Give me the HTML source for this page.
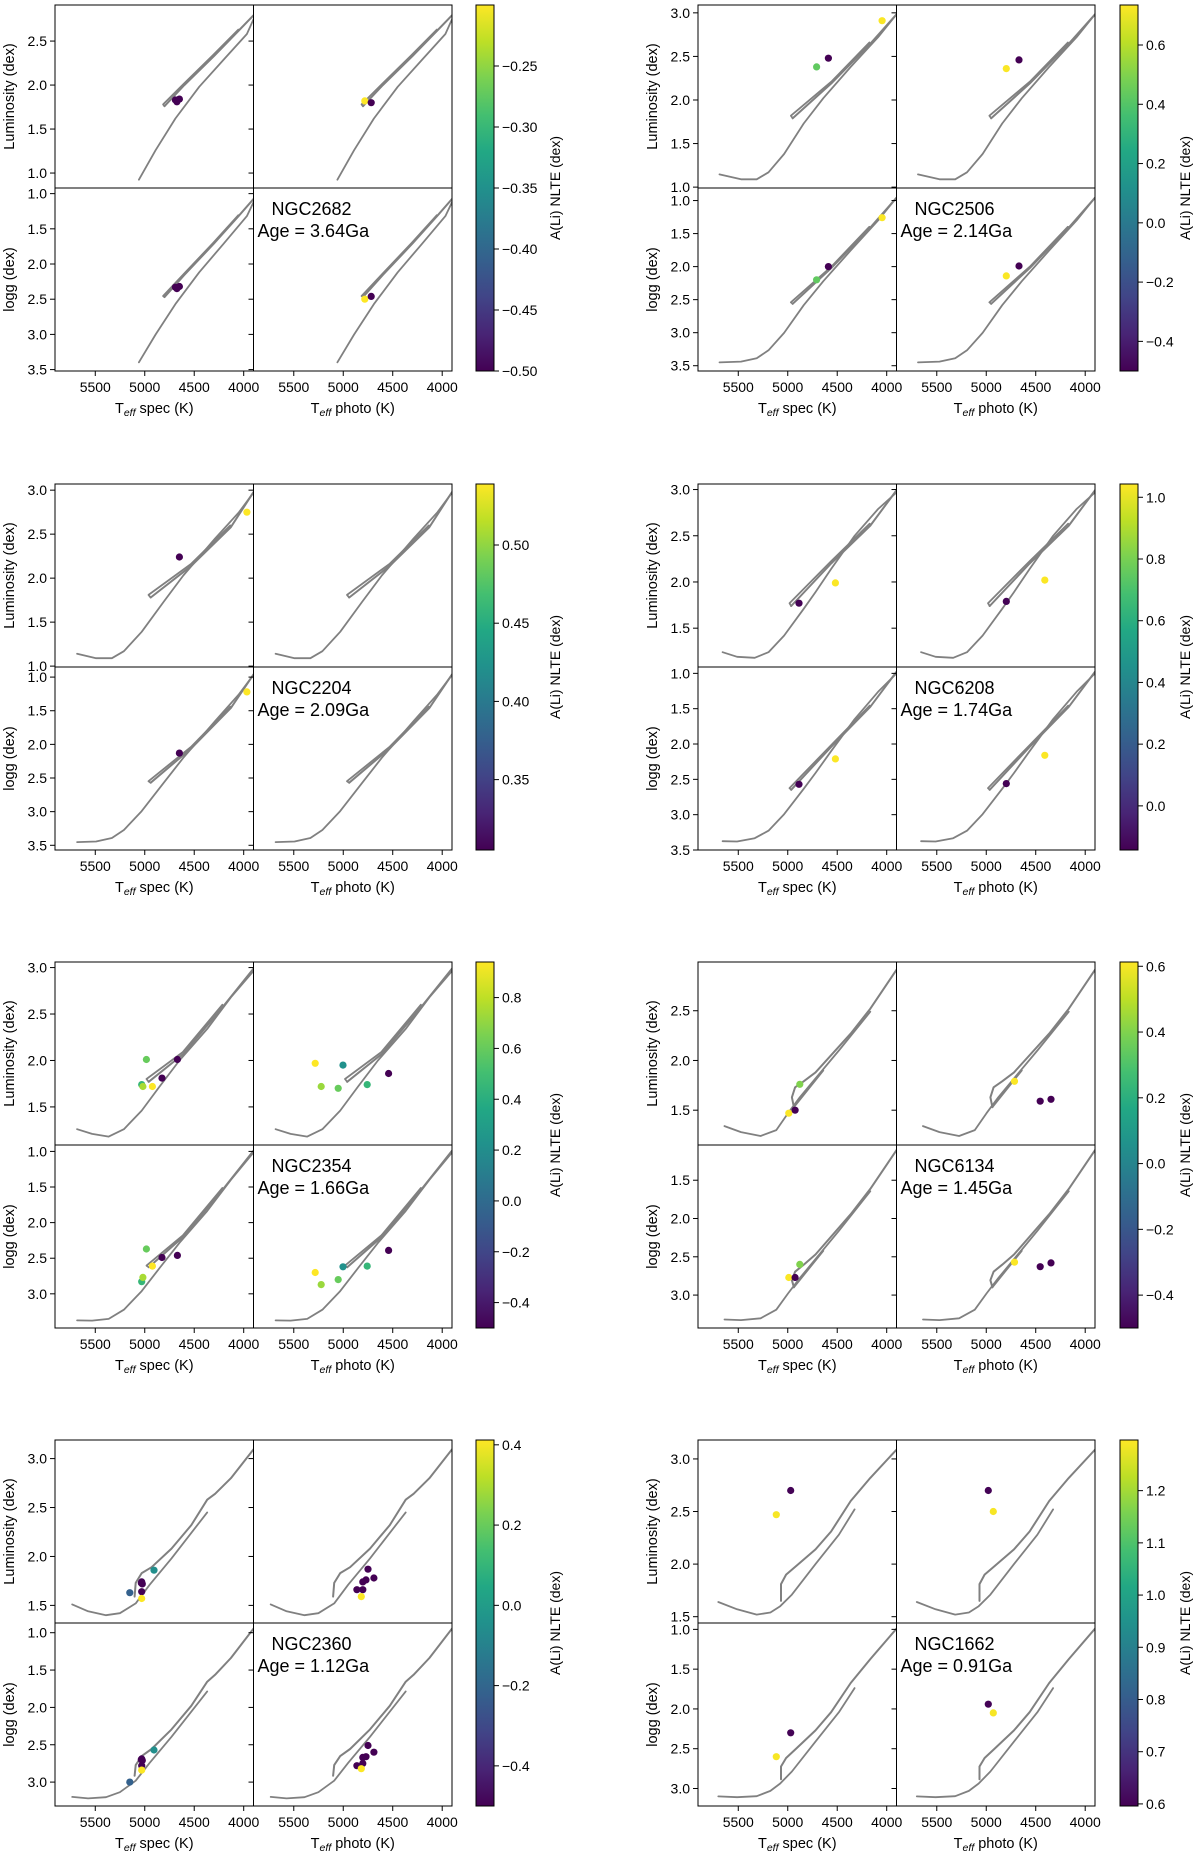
<!DOCTYPE html>
<html><head><meta charset="utf-8"><title>Li-rich giants isochrone panels</title>
<style>
html,body{margin:0;padding:0;background:#fff;}
svg{display:block;font-family:"Liberation Sans","DejaVu Sans",sans-serif;}
</style></head>
<body>
<svg id="fig" xmlns="http://www.w3.org/2000/svg" width="1200" height="1860" viewBox="0 0 1200 1860"></svg>
<script>
// ---------- data ----------
const clusterNames = ["NGC2682","NGC2506","NGC2204","NGC6208","NGC2354","NGC6134","NGC2360","NGC1662"];
const clusterAges = ["3.64","2.14","2.09","1.74","1.66","1.45","1.12","0.91"];
const lumLim = [[0.83,2.91],[0.99,3.09],[0.99,3.07],[1.08,3.06],[1.09,3.06],[1.15,2.99],[1.32,3.19],[1.44,3.18]];
const loggLim = [[0.92,3.52],[0.81,3.58],[0.85,3.57],[0.91,3.5],[0.91,3.48],[1.04,3.43],[0.87,3.32],[0.92,3.22]];
const lumTicks = [[1.0,1.5,2.0,2.5],[1.0,1.5,2.0,2.5,3.0],[1.0,1.5,2.0,2.5,3.0],[1.5,2.0,2.5,3.0],[1.5,2.0,2.5,3.0],[1.5,2.0,2.5],[1.5,2.0,2.5,3.0],[1.5,2.0,2.5,3.0]];
const loggTicks = [[1.0,1.5,2.0,2.5,3.0,3.5],[1.0,1.5,2.0,2.5,3.0,3.5],[1.0,1.5,2.0,2.5,3.0,3.5],[1.0,1.5,2.0,2.5,3.0,3.5],[1.0,1.5,2.0,2.5,3.0],[1.5,2.0,2.5,3.0],[1.0,1.5,2.0,2.5,3.0],[1.0,1.5,2.0,2.5,3.0]];
const tempLim = [5907,3901];
const tempTicks = [5500,5000,4500,4000];
const cbMin = [-0.50,-0.50,0.305,-0.143,-0.50,-0.50,-0.50,0.596];
const cbMax = [-0.20,0.735,0.539,1.043,0.94,0.613,0.412,1.297];
const cbTicks = [[-0.25,-0.30,-0.35,-0.40,-0.45,-0.50],[0.6,0.4,0.2,0.0,-0.2,-0.4],[0.50,0.45,0.40,0.35],[1.0,0.8,0.6,0.4,0.2,0.0],[0.8,0.6,0.4,0.2,0.0,-0.2,-0.4],[0.6,0.4,0.2,0.0,-0.2,-0.4],[0.4,0.2,0.0,-0.2,-0.4],[1.2,1.1,1.0,0.9,0.8,0.7,0.6]];
const cbDecimals = [2,1,2,1,1,1,1,1];
// isochrones (Teff, log L); log g derived with per-cluster zero point
const isoG0 = [4.55,4.62,4.62,4.65,4.66,4.70,4.72,4.76];
const isoMainT = [
 [5059,4890,4690,4450,4209,3968,3888],
 [5690,5472,5314,5195,5037,4839,4641,4364,4087,3889],
 [5684,5492,5332,5211,5031,4810,4610,4289,4048,3896],
 [5658,5512,5334,5195,5037,4839,4720,4562,4324,4087,3889],
 [5684,5532,5364,5211,5031,4850,4650,4369,4129,3896],
 [5639,5472,5274,5116,4997,4878,4720,4483,4166],
 [5733,5572,5392,5251,5091,4951,4730,4369],
 [5702,5512,5314,5175,5076,4958,4720,4483,4324]];
const isoMainL = [
 [0.924,1.26,1.62,1.98,2.28,2.58,2.78],
 [1.146,1.09,1.09,1.17,1.38,1.73,2.02,2.38,2.72,3.0],
 [1.14,1.09,1.09,1.17,1.39,1.73,2.03,2.45,2.75,2.98],
 [1.24,1.19,1.18,1.24,1.42,1.71,1.89,2.14,2.50,2.79,2.98],
 [1.26,1.21,1.18,1.26,1.46,1.72,2.0,2.34,2.68,2.97],
 [1.34,1.28,1.24,1.30,1.47,1.63,1.82,2.10,2.49],
 [1.51,1.44,1.40,1.42,1.52,1.71,1.98,2.45],
 [1.64,1.57,1.52,1.54,1.60,1.71,2.0,2.28,2.52]];
const isoBranchT = [
 [4800,4600,4300,4050,3895],
 [4950,4560,4170,3895],
 [4940,4530,4129,3900],
 [4965,4562,4166,3895],
 [4960,4610,4209,3900],
 [4938,4958,4926,4839,4720,4364,4166,3889],
 [5103,5091,5031,4931,4730,4530,4369,4289,4129,3896],
 [5068,5068,5017,4918,4720,4562,4364,4166,3889]];
const isoBranchL = [
 [1.76,2.00,2.33,2.62,2.80],
 [1.79,2.19,2.64,2.99],
 [1.78,2.14,2.58,2.98],
 [1.74,2.20,2.61,3.0],
 [1.77,2.07,2.58,2.99],
 [1.53,1.63,1.73,1.79,1.88,2.27,2.52,2.93],
 [1.59,1.73,1.83,1.89,2.08,2.32,2.58,2.64,2.80,3.10],
 [1.65,1.81,1.90,1.98,2.14,2.31,2.60,2.82,3.10]];
const isoExtraT = [[4800,4815,4610,4310,4055],[4950,4968,4560,4175],[4940,4962,4535,4135],[4965,4982,4566,4172],[4960,4982,4615,4215],[4938,4641],[],[]];
const isoExtraL = [[1.76,1.78,2.01,2.34,2.63],[1.79,1.82,2.21,2.66],[1.78,1.81,2.16,2.60],[1.74,1.77,2.22,2.63],[1.77,1.80,2.09,2.60],[1.53,1.90],[],[]];
// stars: spectroscopic
const specT = [[4690,4650,4675],[4047,4589,4708],[4650,3968],[4886,4518],[4983,5031,5019,4923,4826,4670],[4878,4989,4926],[5151,4907,5031,5025,5035,5031,5031],[4970,5116]];
const specL = [[1.83,1.84,1.81],[2.91,2.48,2.38],[2.24,2.75],[1.77,1.99],[2.01,1.74,1.72,1.72,1.81,2.01],[1.76,1.47,1.50],[1.63,1.86,1.74,1.72,1.73,1.64,1.57],[2.70,2.47]];
const specLogg = [[2.33,2.32,2.35],[1.26,2.00,2.20],[2.13,1.22],[2.57,2.21],[2.37,2.83,2.77,2.61,2.49,2.46],[2.60,2.77,2.77],[3.00,2.57,2.69,2.71,2.70,2.78,2.84],[2.30,2.60]];
const specA = [[-0.5,-0.5,-0.5],[0.73,-0.5,0.43],[0.305,0.539],[-0.14,1.04],[0.6,0.45,0.75,0.94,-0.5,-0.5],[0.4,0.61,-0.5],[-0.22,-0.05,-0.5,-0.5,-0.5,-0.5,0.41],[0.6,1.29]];
// stars: photometric
const photoT = [[4782,4718],[4797,4669],[],[4797,4408],[5283,5003,5223,5051,4758,4542],[4715,4455,4346],[4862,4802,4802,4770,4690,4750,4818],[4979,4929]];
const photoL = [[1.82,1.80],[2.36,2.46],[],[1.79,2.02],[1.97,1.95,1.72,1.70,1.74,1.86],[1.79,1.59,1.61],[1.66,1.66,1.74,1.76,1.78,1.87,1.59],[2.70,2.50]];
const photoLogg = [[2.50,2.46],[2.14,1.99],[],[2.56,2.16],[2.70,2.62,2.87,2.80,2.61,2.39],[2.57,2.63,2.58],[2.78,2.75,2.67,2.66,2.60,2.51,2.82],[1.94,2.05]];
const photoA = [[-0.2,-0.5],[0.73,-0.5],[],[-0.14,1.04],[0.94,0.22,0.72,0.6,0.45,-0.5],[0.61,-0.5,-0.5],[-0.5,-0.5,-0.5,-0.5,-0.5,-0.5,0.41],[0.6,1.29]];

// ---------- layout ----------
const NS = "http://www.w3.org/2000/svg";
const svg = document.getElementById('fig');
const groupX = [55, 698];
const subW = 198.5;
const rowTop = [5, 484, 962, 1440];
const subH = 183;
const cbX = [476, 1120];
const cbW = 18;
const cbLabelOff = [66, 52];
const viridis = ["#440154","#482475","#414487","#355f8d","#2a788e","#21918c","#22a884","#44bf70","#7ad151","#bddf26","#fde725"];

function hex(c){return [parseInt(c.substr(1,2),16),parseInt(c.substr(3,2),16),parseInt(c.substr(5,2),16)];}
function cmap(t){
  t = Math.max(0, Math.min(1, t));
  const p = t*10, i = Math.min(9, Math.floor(p)), f = p - i;
  const a = hex(viridis[i]), b = hex(viridis[i+1]);
  return "rgb(" + a.map((v,k)=>Math.round(v + (b[k]-v)*f)).join(",") + ")";
}
function mk(tag, attrs, parent){
  const e = document.createElementNS(NS, tag);
  for (const k in attrs) e.setAttribute(k, attrs[k]);
  (parent || svg).appendChild(e);
  return e;
}
function fmt(v, d){ const s = Math.abs(v).toFixed(d); return (v < -1e-9 ? "\u2212" : "") + s; }
const defs = mk('defs', {});
const lg = mk('linearGradient', {id:'vir', x1:'0', y1:'1', x2:'0', y2:'0'}, defs);
viridis.forEach((c,i)=>mk('stop',{offset:(i*10)+'%','stop-color':c},lg));

for (let ci = 0; ci < 8; ci++) {
  const gi = ci % 2, ri = Math.floor(ci / 2);
  const x0 = groupX[gi], y0 = rowTop[ri];
  const g = mk('g', {});
  
  
  const norm = v => (v - cbMin[ci]) / (cbMax[ci] - cbMin[ci]);
  for (let row = 0; row < 2; row++) {
    for (let col = 0; col < 2; col++) {
      const ax = x0 + col*subW, ay = y0 + row*subH;
      const lim = row === 0 ? lumLim[ci] : loggLim[ci];
      const sx = t => ax + (t - tempLim[0])/(tempLim[1]-tempLim[0])*subW;
      const sy = row === 0 ? (v => ay + (lim[1]-v)/(lim[1]-lim[0])*subH) : (v => ay + (v-lim[0])/(lim[1]-lim[0])*subH);
      const yval = (T, L) => row === 0 ? L : isoG0[ci] - L + 4*Math.log10(T/5772);
      const sub = mk('g', {}, g);
      
      
      const cid = 'clip' + ci + row + col;
      const cp = mk('clipPath', {id:cid}, defs);
      mk('rect', {x:ax, y:ay, width:subW, height:subH}, cp);
      const plot = mk('g', {'clip-path':'url(#'+cid+')'}, sub);
      // isochrones
      [[isoMainT[ci], isoMainL[ci], 1.8], [isoBranchT[ci], isoBranchL[ci], 2.0], [isoExtraT[ci], isoExtraL[ci], 1.8]].forEach((s, k) => {
        if (!s[0].length) return;
        const pts = s[0].map((T, i) => sx(T).toFixed(1) + ',' + sy(yval(T, s[1][i])).toFixed(1)).join(' ');
        const pl = mk('polyline', {points:pts, fill:'none', stroke:'#808080', 'stroke-width':s[2], 'stroke-linejoin':'round', 'stroke-linecap':'round'}, plot);
        
        
      });
      // stars
      const TT = col === 0 ? specT[ci] : photoT[ci];
      const VV = row === 0 ? (col === 0 ? specL[ci] : photoL[ci]) : (col === 0 ? specLogg[ci] : photoLogg[ci]);
      const AA = col === 0 ? specA[ci] : photoA[ci];
      TT.forEach((T, i) => {
        const c = mk('circle', {cx:sx(T).toFixed(1), cy:sy(VV[i]).toFixed(1), r:3.6, fill:cmap(norm(AA[i]))}, plot);
        
        
      });
      // frame
      mk('rect', {x:ax, y:ay, width:subW, height:subH, fill:'none', stroke:'#000', 'stroke-width':1}, sub);
      // y ticks
      const yt = row === 0 ? lumTicks[ci] : loggTicks[ci];
      yt.forEach(v => {
        const yy = sy(v);
        mk('line', {x1:ax-5, x2:ax, y1:yy, y2:yy, stroke:'#000', 'stroke-width':1}, sub);
        if (col === 0) {
          const t = mk('text', {x:ax-8, y:yy+5, 'text-anchor':'end', 'font-size':14, fill:'#000'}, sub);
          t.textContent = v.toFixed(1);
        }
      });
      if (col === 0) {
        const yl = mk('text', {x:0, y:0, 'text-anchor':'middle', 'font-size':14.5, fill:'#000', transform:'translate(' + (x0-41) + ',' + (ay+subH/2) + ') rotate(-90)'}, sub);
        yl.textContent = row === 0 ? 'Luminosity (dex)' : 'logg (dex)';
        
        
      }
      if (row === 1) {
        tempTicks.forEach(T => {
          const xx = sx(T);
          mk('line', {x1:xx, x2:xx, y1:ay+subH, y2:ay+subH+5, stroke:'#000', 'stroke-width':1}, sub);
          const t = mk('text', {x:xx, y:ay+subH+21, 'text-anchor':'middle', 'font-size':14, fill:'#000'}, sub);
          t.textContent = String(T);
        });
        const xl = mk('text', {x:ax+subW/2, y:ay+subH+42, 'text-anchor':'middle', 'font-size':14.5, fill:'#000'}, sub);
        
        
        const a = mk('tspan', {}, xl); a.textContent = 'T';
        const b = mk('tspan', {'font-size':10.5, 'font-style':'italic', dy:3}, xl); b.textContent = 'eff';
        const c = mk('tspan', {dy:-3}, xl); c.textContent = col === 0 ? ' spec (K)' : ' photo (K)';
      }
      if (row === 1 && col === 1) {
        const n = mk('text', {x:ax+18, y:ay+27, 'font-size':18, fill:'#000'}, sub);
        n.textContent = clusterNames[ci];
        
        
        const a = mk('text', {x:ax+4, y:ay+49, 'font-size':18, fill:'#000'}, sub);
        a.textContent = 'Age = ' + clusterAges[ci] + 'Ga';
        
        
      }
    }
  }
  // colorbar
  const cx = cbX[gi], cy = y0, ch = subH*2;
  const cb = mk('g', {}, g);
  
  
  mk('rect', {x:cx, y:cy, width:cbW, height:ch, fill:'url(#vir)', stroke:'#000', 'stroke-width':1}, cb);
  cbTicks[ci].forEach(v => {
    const yy = cy + ch - norm(v)*ch;
    mk('line', {x1:cx+cbW, x2:cx+cbW+5, y1:yy, y2:yy, stroke:'#000', 'stroke-width':1}, cb);
    const t = mk('text', {x:cx+cbW+8, y:yy+5, 'font-size':14, fill:'#000'}, cb);
    t.textContent = fmt(v, cbDecimals[ci]);
  });
  const cl = mk('text', {x:0, y:0, 'text-anchor':'middle', 'font-size':14, fill:'#000', transform:'translate(' + (cx+cbW+cbLabelOff[gi]) + ',' + (cy+ch/2) + ') rotate(-90)'}, cb);
  cl.textContent = 'A(Li) NLTE (dex)';
  
  
}
</script>
</body></html>
